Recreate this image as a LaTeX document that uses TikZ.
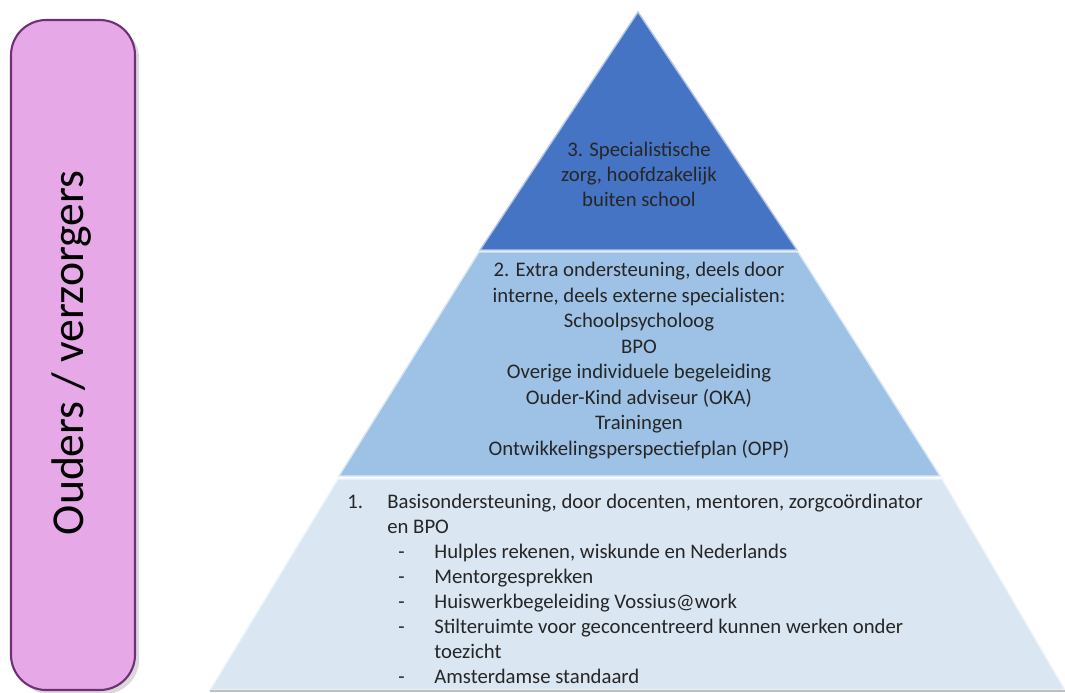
\documentclass[tikz,border=0pt]{standalone}
\usepackage{fontspec}
\setmainfont{Carlito}
\usepackage{tikz}
\usetikzlibrary{positioning,shadows}
\usepackage{xcolor}

\definecolor{topblue}{RGB}{70,116,196}
\definecolor{midblue}{RGB}{157,194,230}
\definecolor{lowblue}{RGB}{218,230,242}
\definecolor{pinkfill}{RGB}{230,168,230}
\definecolor{pinkedge}{RGB}{112,48,120}

\begin{document}
\begin{tikzpicture}[x=0.02cm,y=-0.02cm,
	layer/.style={draw=white!60!#1,line width=0.8pt,fill=#1},
	laag/.style={font=\fontsize{11.8pt}{14.2pt}\selectfont,inner sep=0pt,text=black!85},
	regel/.style={laag,anchor=base west}]
\useasboundingbox (0,0) rectangle (1065,693);

% ouders / verzorgers
\node [draw=pinkedge,line width=1.2pt,fill=pinkfill,rounded corners=20,
	minimum width=124*0.02cm,minimum height=670*0.02cm,drop shadow={opacity=0.3}] (ouders) at (73,355) {};
\node [rotate=90,anchor=base,inner sep=0pt,font=\fontsize{26pt}{30pt}\selectfont] (ouderstxt) at (83,353) {Ouders / verzorgers};

% pyramid
\path [layer=lowblue] (338,479) -- (942,479) -- (1065,690) -- (210,690) -- cycle;
\draw [black!25,line width=1.5pt] (210,691) -- (1065,691);
\path [layer=midblue] (479,252) -- (798,252) -- (940,476) -- (339,476) -- cycle;
\path [layer=topblue] (638,12) -- (797,250) -- (480,250) -- cycle;

% 3 (base = last line)
\node [laag,align=center,anchor=base] (drie) at (639,206)
	{3. Specialistische\\zorg, hoofdzakelijk\\buiten school};

% 2
\node [laag,align=center,anchor=base,font=\fontsize{11.8pt}{14.5pt}\selectfont] (twee) at (639,455)
	{2. Extra ondersteuning, deels door\\interne, deels externe specialisten:\\Schoolpsycholoog\\BPO\\
	Overige individuele begeleiding\\Ouder-Kind adviseur (OKA)\\Trainingen\\Ontwikkelingsperspectiefplan (OPP)};

% 1
\node [regel] (een) at (347,508) {1.};
\node [regel] (basis) at (387,508) {Basisondersteuning, door docenten, mentoren, zorgcoördinator};
\node [regel] (enbpo) at (387,533) {en BPO};
\foreach \y/\t in {558/{Hulples rekenen, wiskunde en Nederlands},583/{Mentorgesprekken},
	608/{Huiswerkbegeleiding Vossius@work},633/{Stilteruimte voor geconcentreerd kunnen werken onder},
	683/{Amsterdamse standaard}}
{
\node [regel] (streep\y) at (398,\y) {-};
\node [regel] (item\y) at (434,\y) {\t};
}
\node [regel] (toezicht) at (434,658) {toezicht};
\end{tikzpicture}
\end{document}
